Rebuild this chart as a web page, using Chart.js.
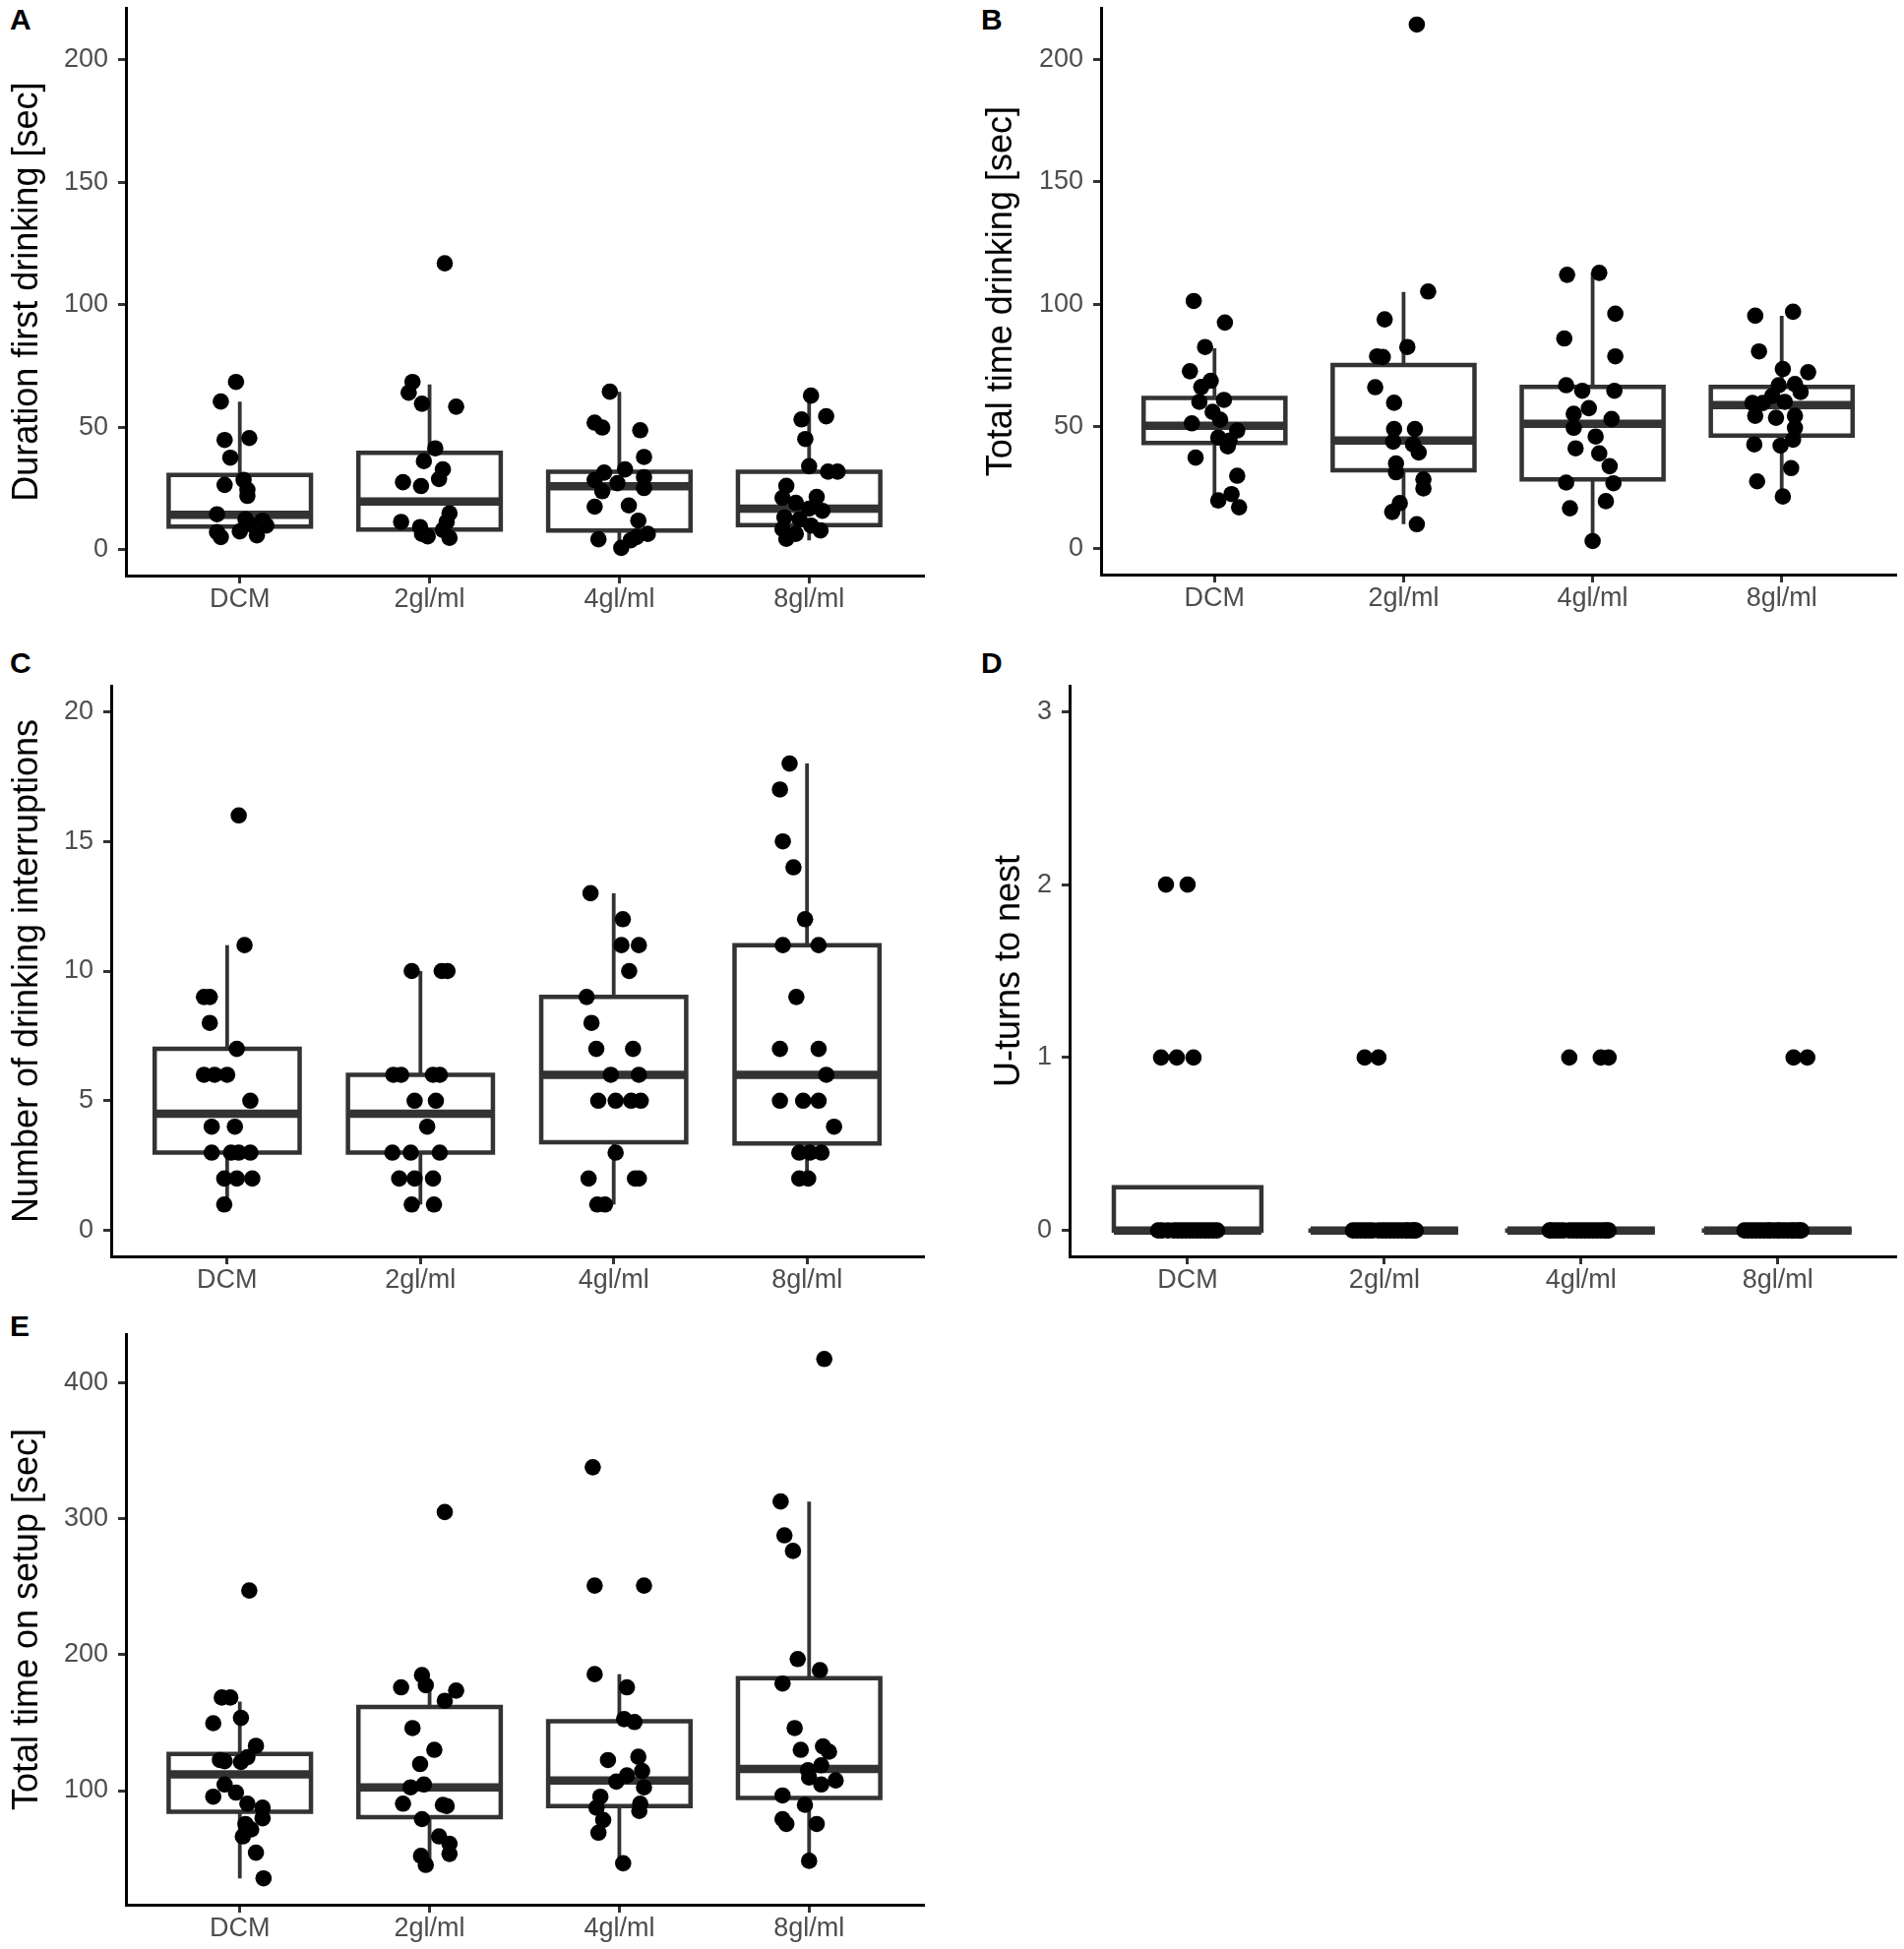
<!DOCTYPE html>
<html>
<head>
<meta charset="utf-8">
<title>Drinking behaviour box plots</title>
<script src="https://cdn.jsdelivr.net/npm/chart.js@4.4.1/dist/chart.umd.min.js"></script>
<style>
  body { margin: 0; background: #fff; width: 1935px; height: 1981px; position: relative; overflow: hidden;
         font-family: "Liberation Sans", Arial, sans-serif; }
  canvas { position: absolute; }
  .tag { position: absolute; font-weight: bold; font-size: 30px; line-height: 1; color: #000; }
</style>
</head>
<body>
<div class="tag" style="left:10px;top:5px">A</div>
<div class="tag" style="left:997px;top:5px">B</div>
<div class="tag" style="left:10px;top:659px">C</div>
<div class="tag" style="left:997px;top:659px">D</div>
<div class="tag" style="left:10px;top:1333px">E</div>

<canvas id="panelA" width="960" height="660" style="left:0;top:0"></canvas>
<canvas id="panelB" width="975" height="660" style="left:960px;top:0"></canvas>
<canvas id="panelC" width="960" height="690" style="left:0;top:650px"></canvas>
<canvas id="panelD" width="975" height="690" style="left:960px;top:650px"></canvas>
<canvas id="panelE" width="960" height="661" style="left:0;top:1320px"></canvas>

<script>
const categories = ['DCM', '2gl/ml', '4gl/ml', '8gl/ml'];
const categoryTicks = [1, 2, 3, 4];

// A - duration of first drinking bout
const aValues = [
  [68.5, 60.5, 44.8, 45.6, 37.6, 26.5, 28.5, 24.5, 22, 14.5, 7.2, 5.2, 7.5, 10.5, 5.9, 11.9, 9.9, 12.5],
  [116.9, 68.5, 64.1, 59.6, 58.4, 41.4, 36.2, 32.8, 28.9, 27.6, 26, 14.9, 11.4, 9.3, 6.5, 5.5, 11.4, 8.1, 4.9],
  [64.5, 51.9, 49.9, 48.8, 37.9, 32.8, 31.5, 28.5, 29.6, 27.2, 23.9, 25.2, 18.1, 17.6, 11.9, 4.3, 0.8, 3.9, 6.5, 5.2],
  [62.9, 54.5, 53.2, 45.2, 34.1, 31.9, 31.9, 26.1, 21.2, 19.2, 21.6, 15.9, 16.8, 13.2, 12.5, 9.9, 8.5, 6.5, 4.5, 7.9]
];
const aJitter = [
  [-0.02, -0.1, -0.08, 0.05, -0.05, -0.08, 0.02, 0.04, 0.04, -0.12, -0.12, -0.1, 0, 0.05, 0.09, 0.12, 0.14, 0.03],
  [0.08, -0.09, -0.11, -0.04, 0.14, 0.03, -0.03, 0.07, 0.05, -0.14, -0.045, 0.105, -0.15, -0.05, -0.04, -0.01, 0.09, 0.07, 0.105],
  [-0.05, -0.13, -0.09, 0.11, 0.13, 0.03, -0.08, -0.13, 0.13, -0.01, -0.09, 0.13, 0.05, -0.13, 0.1, -0.11, 0.01, 0.06, 0.15, 0.09],
  [0.01, 0.09, -0.04, -0.02, 0, 0.1, 0.15, -0.12, -0.14, -0.07, 0.04, 0.07, 0, -0.13, -0.05, 0.01, -0.14, -0.07, -0.12, 0.06]
];
const aQ1 = [9.5, 8.3, 7.9, 10.1];
const aMed = [14.3, 19.7, 25.9, 16.8];
const aQ3 = [30.5, 39.6, 31.9, 31.9];
const aLo = [5.2, 4.9, 0.8, 3.9];
const aHi = [60.5, 67.5, 64.5, 62.9];

// B - total time drinking
const bValues = [
  [101.3, 92.5, 82.5, 72.6, 68.7, 66.2, 60.9, 60.1, 56, 52.8, 51.3, 48.4, 45.5, 44.3, 41.9, 37.3, 29.9, 22.4, 19.8, 17],
  [214.3, 105.2, 93.8, 82.5, 78.7, 78.4, 66.1, 59.7, 49, 49, 43.8, 42.7, 39.4, 34.9, 31.3, 28.4, 24.7, 18.7, 15.1, 10.1],
  [112, 112.8, 96.1, 86, 78.7, 66.9, 64.6, 64.6, 57.5, 55.2, 53.1, 49.5, 45.9, 41.1, 39, 33.8, 27.1, 26.8, 19.5, 16.6, 3.2],
  [95.3, 96.9, 80.7, 72.2, 73.5, 66.9, 67.4, 64.1, 62.5, 59.6, 59.6, 60.1, 54.4, 53.6, 54.4, 49.5, 44.6, 42.7, 42.2, 33, 27.6, 21.4]
];
const bJitter = [
  [-0.11, 0.055, -0.05, -0.13, -0.02, -0.07, 0.05, -0.08, -0.01, 0.03, -0.12, 0.12, 0.02, 0.08, 0.07, -0.1, 0.12, 0.09, 0.02, 0.13],
  [0.07, 0.13, -0.1, 0.02, -0.14, -0.11, -0.15, -0.05, -0.05, 0.06, -0.055, 0.05, 0.08, -0.04, -0.04, 0.105, 0.105, -0.02, -0.06, 0.07],
  [-0.135, 0.035, 0.12, -0.15, 0.12, -0.14, -0.055, 0.115, -0.02, -0.1, 0.1, -0.1, 0.016, -0.09, 0.035, 0.09, -0.14, 0.11, 0.07, -0.12, 0],
  [-0.14, 0.06, -0.12, 0.14, 0.006, -0.016, 0.07, 0.1, -0.05, -0.1, -0.155, 0.016, -0.14, -0.03, 0.07, 0.07, 0.06, -0.145, -0.006, 0.05, -0.13, 0.006]
];
const bQ1 = [43.3, 32.1, 28.4, 46.3];
const bMed = [50.3, 44.3, 51.1, 58.8];
const bQ3 = [61.7, 75.2, 66.2, 66.2];
const bLo = [17, 10.1, 3.2, 21.4];
const bHi = [82, 105, 112.8, 95.3];

// C - number of drinking interruptions
const cValues = [
  [16, 11, 9, 9, 8, 7, 6, 6, 6, 5, 4, 4, 3, 3, 3, 2, 2, 2, 1, 3],
  [10, 10, 10, 6, 6, 6, 6, 5, 5, 4, 3, 3, 3, 2, 2, 2, 1, 1],
  [13, 12, 11, 11, 10, 9, 8, 7, 7, 6, 6, 5, 5, 5, 5, 3, 2, 2, 2, 1, 1],
  [18, 17, 15, 14, 12, 11, 11, 9, 7, 7, 6, 5, 5, 5, 4, 3, 3, 3, 2, 2]
];
const cJitter = [
  [0.06, 0.09, -0.12, -0.09, -0.09, 0.05, -0.12, -0.065, 0, 0.12, -0.08, 0.04, -0.08, 0.06, 0.12, -0.015, 0.05, 0.13, -0.015, 0.02],
  [-0.045, 0.11, 0.14, -0.14, -0.1, 0.065, 0.1, -0.03, 0.08, 0.035, -0.145, -0.05, 0.1, -0.11, -0.03, 0.065, -0.045, 0.07],
  [-0.12, 0.047, 0.04, 0.13, 0.08, -0.14, -0.115, -0.09, 0.1, -0.015, 0.13, -0.08, 0.01, 0.09, 0.14, 0.01, -0.13, 0.11, 0.13, -0.085, -0.045],
  [-0.09, -0.14, -0.125, -0.07, -0.01, -0.125, 0.06, -0.055, -0.14, 0.06, 0.1, -0.14, -0.02, 0.06, 0.14, -0.04, 0.015, 0.075, -0.04, 0.006]
];
const cQ1 = [3, 3, 3.4, 3.35];
const cMed = [4.5, 4.5, 6, 6];
const cQ3 = [7, 6, 9, 11];
const cLo = [1, 1, 1, 2];
const cHi = [11, 10, 13, 18];

// D - U-turns to nest
const dValues = [
  [2, 2, 1, 1, 1, 0, 0, 0, 0, 0, 0, 0, 0, 0, 0, 0, 0, 0, 0, 0],
  [1, 1, 0, 0, 0, 0, 0, 0, 0, 0, 0, 0, 0, 0, 0, 0, 0, 0, 0, 0],
  [1, 1, 1, 0, 0, 0, 0, 0, 0, 0, 0, 0, 0, 0, 0, 0, 0, 0, 0, 0],
  [1, 1, 0, 0, 0, 0, 0, 0, 0, 0, 0, 0, 0, 0, 0, 0, 0, 0, 0, 0]
];
const dJitter = [
  [-0.11, 0, -0.135, -0.055, 0.03, -0.15, -0.13, -0.1, -0.07, -0.05, -0.03, -0.01, 0.01, 0.03, 0.05, 0.07, 0.09, 0.11, 0.13, 0.15],
  [-0.1, -0.03, -0.16, -0.14, -0.12, -0.1, -0.08, -0.06, -0.03, -0.01, 0.01, 0.03, 0.05, 0.07, 0.09, 0.11, 0.12, 0.14, 0.15, 0.16],
  [-0.06, 0.1, 0.14, -0.16, -0.15, -0.13, -0.11, -0.09, -0.06, -0.04, -0.02, 0, 0.02, 0.04, 0.06, 0.08, 0.1, 0.12, 0.13, 0.14],
  [0.08, 0.15, -0.17, -0.15, -0.13, -0.11, -0.09, -0.07, -0.05, -0.04, -0.02, 0, 0.01, 0.03, 0.05, 0.07, 0.08, 0.1, 0.11, 0.12]
];
const dQ1 = [0, 0, 0, 0];
const dMed = [0, 0, 0, 0];
const dQ3 = [0.25, 0, 0, 0];
const dLo = [0, 0, 0, 0];
const dHi = [0.25, 0, 0, 0];

// E - total time on setup
const eValues = [
  [247.3, 168.5, 168.5, 153.5, 149.6, 133, 122.5, 121.6, 121, 124.6, 104.5, 95.5, 98.5, 90.4, 87.4, 79.6, 75.4, 71.4, 66.3, 54.3, 35.4],
  [305, 185, 177.5, 176, 173.6, 166.1, 146, 130, 119.5, 104.5, 102.4, 90.4, 89.5, 88.6, 79, 66.3, 60.9, 53.4, 51.9, 45.3],
  [338, 250.9, 250.9, 185.7, 176, 152.6, 150.5, 122.5, 124.9, 114.4, 111.1, 106.6, 102.4, 95.5, 90.4, 87.4, 85, 78.4, 69, 46.5],
  [417.7, 312.8, 287.9, 276.4, 196.8, 188.7, 178.8, 146, 130, 132.5, 128.6, 118.6, 115, 109.6, 107.5, 104.5, 96.4, 89.5, 79, 75.4, 75.4, 48.3]
];
const eJitter = [
  [0.05, -0.095, -0.05, 0.006, -0.14, 0.085, -0.105, -0.08, 0.006, 0.04, -0.08, -0.14, -0.02, 0.04, 0.12, 0.12, 0.03, 0.06, 0.016, 0.085, 0.125],
  [0.08, -0.04, -0.02, -0.15, 0.14, 0.08, -0.09, 0.025, -0.05, -0.03, -0.1, -0.14, 0.07, 0.09, -0.04, 0.05, 0.105, 0.105, -0.045, -0.02],
  [-0.14, -0.13, 0.13, -0.13, 0.04, 0.025, 0.08, -0.06, 0.1, 0.12, 0.04, -0.016, 0.13, -0.1, 0.11, -0.12, 0.105, -0.085, -0.11, 0.02],
  [0.08, -0.15, -0.13, -0.085, -0.06, 0.057, -0.14, -0.076, -0.044, 0.073, 0.105, 0.064, -0.006, 0, 0.14, 0.064, -0.14, -0.022, -0.14, -0.12, 0.04, 0]
];
const eQ1 = [84.4, 80.5, 88.6, 94.6];
const eMed = [112, 102.4, 107.5, 115.9];
const eQ3 = [127, 161.6, 151.1, 182.7];
const eLo = [35.4, 45.3, 46.5, 48.3];
const eHi = [165.5, 176.6, 185.7, 312.8];

const timeTicks = [0, 50, 100, 150, 200];
const interruptTicks = [0, 5, 10, 15, 20];
const uturnTicks = [0, 1, 2, 3];
const setupTicks = [100, 200, 300, 400];

Chart.defaults.font.family = '"Liberation Sans", Arial, sans-serif';

const INK = '#333333';
const HALF_BOX = 0.375;

function lineSet(data, width, cap) {
  return {
    data: data,
    showLine: true,
    borderColor: INK,
    borderWidth: width,
    borderCapStyle: cap,
    borderJoinStyle: 'miter',
    pointRadius: 0,
    pointHoverRadius: 0,
    fill: false,
    order: 1
  };
}

function boxSets(q1, med, q3, lo, hi) {
  const sets = [];
  for (let i = 0; i < q1.length; i++) {
    const c = categoryTicks[i];
    const l = c - HALF_BOX, r = c + HALF_BOX;
    if (hi[i] > q3[i]) sets.push(lineSet([{x: c, y: q3[i]}, {x: c, y: hi[i]}], 3.8, 'butt'));
    if (lo[i] < q1[i]) sets.push(lineSet([{x: c, y: q1[i]}, {x: c, y: lo[i]}], 3.8, 'butt'));
    sets.push(lineSet([{x: l, y: q1[i]}, {x: r, y: q1[i]}, {x: r, y: q3[i]}, {x: l, y: q3[i]}, {x: l, y: q1[i]}], 4.5, 'square'));
    sets.push(lineSet([{x: l, y: med[i]}, {x: r, y: med[i]}], 8.5, 'butt'));
  }
  return sets;
}

function pointSet(values, jitter) {
  const data = [];
  values.forEach((group, gi) => {
    group.forEach((v, k) => data.push({x: categoryTicks[gi] + jitter[gi][k], y: v}));
  });
  return {
    data: data,
    showLine: false,
    pointRadius: 8.3,
    pointHoverRadius: 8.3,
    backgroundColor: '#000',
    borderColor: '#000',
    borderWidth: 0,
    order: 0
  };
}

function drawPanel(id, p) {
  new Chart(document.getElementById(id), {
    type: 'scatter',
    data: {
      datasets: [pointSet(p.values, p.jitter)].concat(boxSets(p.q1, p.med, p.q3, p.lo, p.hi))
    },
    options: {
      responsive: false,
      animation: false,
      events: [],
      layout: { padding: { left: 0, top: p.padTop, right: p.padRight, bottom: 0 } },
      plugins: { legend: { display: false }, tooltip: { enabled: false } },
      scales: {
        x: {
          type: 'linear',
          min: 0.4,
          max: 4.6,
          afterBuildTicks: s => { s.ticks = categoryTicks.map(v => ({ value: v })); },
          afterFit: s => { s.height = p.xHeight; s.paddingLeft = 0; s.paddingRight = 0; },
          ticks: {
            callback: v => categories[Math.round(v) - 1],
            font: { size: 27 },
            color: '#4d4d4d',
            padding: 0,
            autoSkip: false,
            maxRotation: 0
          },
          grid: { display: true, drawOnChartArea: false, drawTicks: true, tickLength: 8, color: INK, lineWidth: 3 },
          border: { display: true, color: '#000', width: 3 }
        },
        y: {
          type: 'linear',
          min: p.yMin,
          max: p.yMax,
          afterBuildTicks: s => { s.ticks = p.yTicks.map(v => ({ value: v })); },
          afterFit: s => { s.width = p.yWidth; s.paddingTop = 0; s.paddingBottom = 0; },
          ticks: { font: { size: 27 }, color: '#4d4d4d', padding: 10 },
          title: {
            display: true,
            text: p.title,
            color: '#000',
            font: { size: 36 },
            padding: { top: p.titlePad, bottom: 0 }
          },
          grid: { display: true, drawOnChartArea: false, drawTicks: true, tickLength: 8, color: INK, lineWidth: 3 },
          border: { display: true, color: '#000', width: 3 }
        }
      }
    }
  });
}

drawPanel('panelA', {
  title: 'Duration first drinking [sec]', values: aValues, jitter: aJitter,
  q1: aQ1, med: aMed, q3: aQ3, lo: aLo, hi: aHi,
  yTicks: timeTicks, yMin: -10.5, yMax: 221,
  yWidth: 128, xHeight: 75, padTop: 5, padRight: 22, titlePad: 6
});
drawPanel('panelB', {
  title: 'Total time drinking [sec]', values: bValues, jitter: bJitter,
  q1: bQ1, med: bMed, q3: bQ3, lo: bLo, hi: bHi,
  yTicks: timeTicks, yMin: -10.5, yMax: 221,
  yWidth: 159, xHeight: 76, padTop: 5, padRight: 9, titlePad: 36.5
});
drawPanel('panelC', {
  title: 'Number of drinking interruptions', values: cValues, jitter: cJitter,
  q1: cQ1, med: cMed, q3: cQ3, lo: cLo, hi: cHi,
  yTicks: interruptTicks, yMin: -1, yMax: 21,
  yWidth: 113, xHeight: 63, padTop: 47, padRight: 22, titlePad: 6
});
drawPanel('panelD', {
  title: 'U-turns to nest', values: dValues, jitter: dJitter,
  q1: dQ1, med: dMed, q3: dQ3, lo: dLo, hi: dHi,
  yTicks: uturnTicks, yMin: -0.15, yMax: 3.15,
  yWidth: 127, xHeight: 63, padTop: 47, padRight: 5, titlePad: 44.5
});
drawPanel('panelE', {
  title: 'Total time on setup [sec]', values: eValues, jitter: eJitter,
  q1: eQ1, med: eMed, q3: eQ3, lo: eLo, hi: eHi,
  yTicks: setupTicks, yMin: 16, yMax: 436,
  yWidth: 128, xHeight: 45, padTop: 36, padRight: 22, titlePad: 6
});
</script>
</body>
</html>
